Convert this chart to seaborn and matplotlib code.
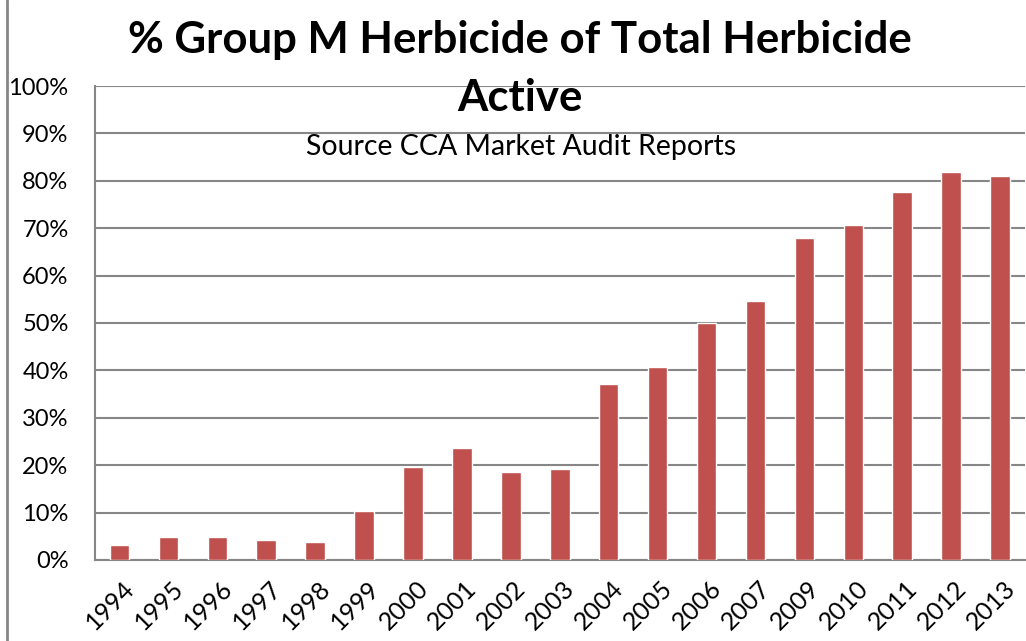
import matplotlib.pyplot as plt
import matplotlib.ticker as mtick
import matplotlib.transforms as mtrans
import pandas as pd
import seaborn as sns

# Data
years = ["1994", "1995", "1996", "1997", "1998", "1999", "2000", "2001", "2002", "2003",
         "2004", "2005", "2006", "2007", "2009", "2010", "2011", "2012", "2013"]
share = [0.032, 0.049, 0.049, 0.042, 0.038, 0.103, 0.196, 0.236, 0.186, 0.192,
         0.371, 0.407, 0.500, 0.546, 0.679, 0.707, 0.776, 0.819, 0.810]

df = pd.DataFrame({"year": years, "share": share})

sns.set_style("white")
plt.rcParams["font.family"] = ["Lato", "DejaVu Sans"]
plt.rcParams["text.color"] = "black"
plt.rcParams["xtick.color"] = "black"
plt.rcParams["ytick.color"] = "black"

fig = plt.figure(figsize=(10.26, 6.41), dpi=100)
ax = fig.add_axes([0.0926, 0.1264, 0.906, 0.7394])

sns.barplot(data=df, x="year", y="share", color="#C0504D", saturation=1,
            width=0.4, ax=ax, zorder=3)

ax.set_ylim(0, 1)
ax.set_xlim(-0.5, len(years) - 0.5)
ax.yaxis.set_major_locator(mtick.MultipleLocator(0.1))
ax.yaxis.set_major_formatter(mtick.PercentFormatter(1, decimals=0))
ax.grid(axis="y", color="#868686", linewidth=1.5, zorder=0)
ax.set_axisbelow(True)
ax.set_xlabel("")
ax.set_ylabel("")

for side in ["top", "right"]:
    ax.spines[side].set_visible(False)
for side in ["left", "bottom"]:
    ax.spines[side].set_color("#868686")
    ax.spines[side].set_linewidth(1.5)

# boundary ticks between categories on x, like the original
ax.set_xticks([i + 0.5 for i in range(-1, len(years))], minor=True)
ax.tick_params(axis="x", which="minor", length=7, width=1.5, color="#868686", direction="out")
ax.tick_params(axis="x", which="major", length=0, pad=12, labelsize=18)
ax.tick_params(axis="y", length=8, width=1.5, color="#868686", direction="out", labelsize=17, pad=11)
shift = mtrans.ScaledTranslation(3 / 100, 0, fig.dpi_scale_trans)
for lab in ax.get_xticklabels():
    lab.set_rotation(45)
    lab.set_ha("right")
    lab.set_va("top")
    lab.set_rotation_mode("anchor")
    lab.set_transform(lab.get_transform() + shift)

fig.text(0.507, 0.937, "% Group M Herbicide of Total Herbicide", ha="center", va="center",
         fontsize=31.5, fontweight="bold")
fig.text(0.507, 0.847, "Active", ha="center", va="center", fontsize=31.5, fontweight="bold")
fig.text(0.508, 0.771, "Source CCA Market Audit Reports", ha="center", va="center", fontsize=20.5)

# outer chart border on the left
fig.add_artist(plt.Line2D([0.007, 0.007], [0, 1], color="#868686", linewidth=2, transform=fig.transFigure))

fig.savefig("out.png", dpi=100)
